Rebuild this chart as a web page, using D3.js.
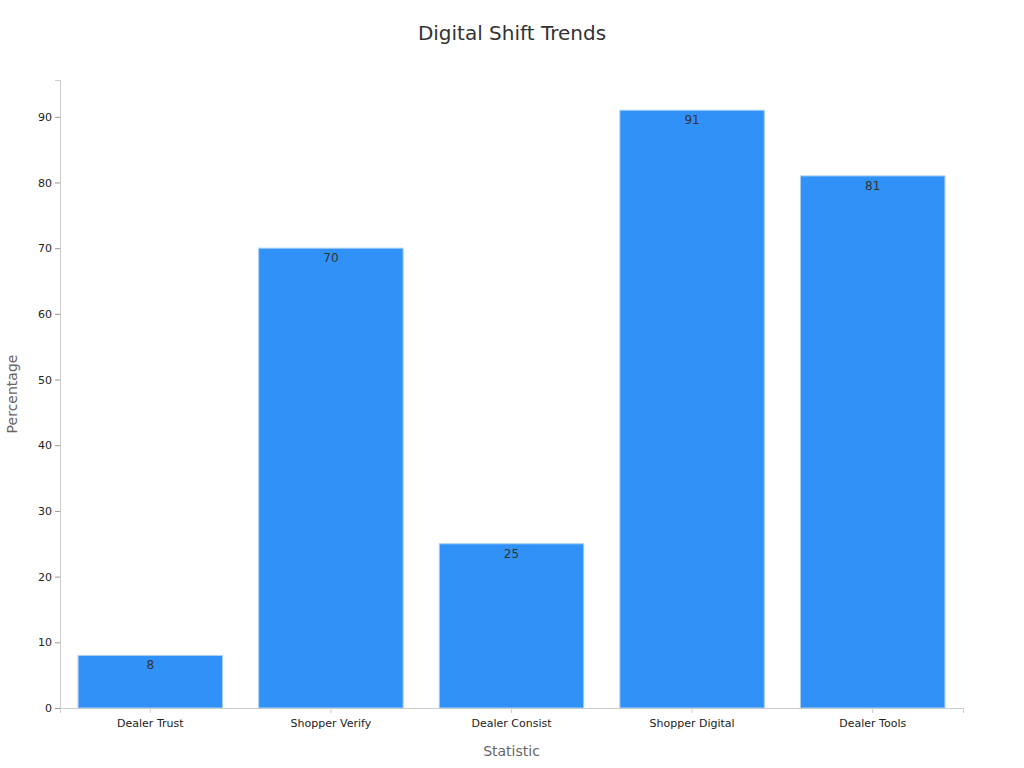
<!DOCTYPE html>
<html>
<head>
<meta charset="utf-8">
<script src="https://cdn.jsdelivr.net/npm/d3@7"></script>
<style>
  body { margin: 0; background: #fff; font-family: "DejaVu Sans", sans-serif; }
</style>
</head>
<body>
<div id="vis"></div>
<script>
// Data
const CATEGORIES = ["Dealer Trust", "Shopper Verify", "Dealer Consist", "Shopper Digital", "Dealer Tools"];
const VALUES = [8, 70, 25, 91, 81];
const Y_TICKS = [0, 10, 20, 30, 40, 50, 60, 70, 80, 90];

const FRAME_WIDTH = 1024;
const FRAME_HEIGHT = 768;
const MARGINS = {left: 60, right: 61, top: 80, bottom: 60};

const svg = d3.select("#vis")
  .append("svg")
    .attr("width", FRAME_WIDTH)
    .attr("height", FRAME_HEIGHT);

const X_SCALE = d3.scaleBand()
  .domain(CATEGORIES)
  .range([MARGINS.left, FRAME_WIDTH - MARGINS.right])
  .paddingInner(0.2)
  .paddingOuter(0.1);

const Y_SCALE = d3.scaleLinear()
  .domain([0, 95.6])
  .range([FRAME_HEIGHT - MARGINS.bottom, MARGINS.top]);

// title
svg.append("text")
  .attr("x", 512).attr("y", 40)
  .attr("text-anchor", "middle")
  .attr("font-size", "20px")
  .attr("fill", "#333")
  .text("Digital Shift Trends");

// bars
svg.selectAll(".bar")
  .data(VALUES)
  .enter()
  .append("rect")
    .attr("class", "bar")
    .attr("x", (d, i) => X_SCALE(CATEGORIES[i]))
    .attr("y", d => Y_SCALE(d))
    .attr("width", X_SCALE.bandwidth())
    .attr("height", d => Y_SCALE(0) - Y_SCALE(d))
    .attr("fill", "#3092f8")
    .attr("stroke", "#a9cff7")
    .attr("stroke-width", 1);

// value labels
svg.selectAll(".lbl")
  .data(VALUES)
  .enter()
  .append("text")
    .attr("x", (d, i) => X_SCALE(CATEGORIES[i]) + X_SCALE.bandwidth() / 2)
    .attr("y", d => Y_SCALE(d) + 14)
    .attr("text-anchor", "middle")
    .attr("font-size", "12px")
    .attr("fill", "#333")
    .text(d => d);

// x axis
const xAxis = svg.append("g")
  .attr("transform", "translate(0," + Y_SCALE(0) + ")")
  .call(d3.axisBottom(X_SCALE).tickSizeOuter(0).tickSize(5));
xAxis.select(".domain").attr("stroke", "#ccc");
xAxis.selectAll(".tick line").attr("stroke", "#ccc");
xAxis.selectAll("text").attr("font-size", "11px").attr("fill", "#222")
  .attr("font-family", "DejaVu Sans").attr("dy", "1em");

// y axis
const yAxis = svg.append("g")
  .attr("transform", "translate(" + MARGINS.left + ",0)")
  .call(d3.axisLeft(Y_SCALE).tickValues(Y_TICKS).tickSizeOuter(0).tickSize(5));
yAxis.select(".domain").attr("stroke", "#ccc");
yAxis.selectAll(".tick line").attr("stroke", "#999");
yAxis.selectAll("text").attr("font-size", "11px").attr("fill", "#222")
  .attr("font-family", "DejaVu Sans");

// axis titles
svg.append("text")
  .attr("x", (MARGINS.left + FRAME_WIDTH - MARGINS.right) / 2)
  .attr("y", 756)
  .attr("text-anchor", "middle")
  .attr("font-size", "14px")
  .attr("fill", "#666")
  .text("Statistic");

svg.append("text")
  .attr("transform", "translate(17," + ((MARGINS.top + FRAME_HEIGHT - MARGINS.bottom) / 2) + ") rotate(-90)")
  .attr("text-anchor", "middle")
  .attr("font-size", "14px")
  .attr("fill", "#666")
  .text("Percentage");
</script>
</body>
</html>
